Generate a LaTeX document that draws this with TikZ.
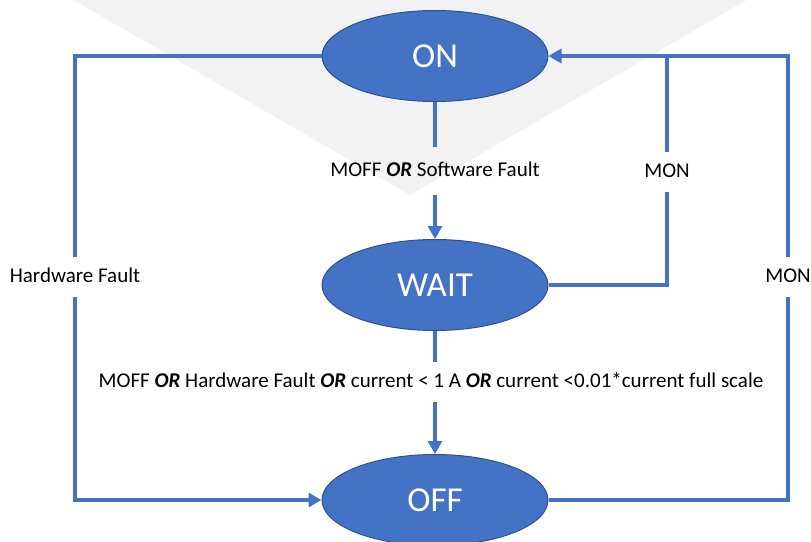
\documentclass[tikz,border=0pt]{standalone}
\usepackage{fontspec}
\setmainfont{Carlito}
\usetikzlibrary{shapes.geometric,arrows.meta}
\definecolor{obl}{HTML}{4472C4}
\definecolor{obd}{HTML}{2F528F}
\definecolor{tri}{HTML}{F2F2F2}
\begin{document}
\begin{tikzpicture}[x=1pt,y=-1pt,
 state/.style={ellipse, draw=obd, line width=1pt, fill=obl, minimum width=226pt, minimum height=91pt, inner sep=0pt, text=white, font=\fontsize{35}{40}\selectfont},
 lbl/.style={font=\fontsize{21}{24}\selectfont, inner sep=0pt, text height=14pt, text depth=4pt},
 conn/.style={obl, line width=4pt},
 arr/.style={conn, -{Triangle[length=13pt,width=14pt]}}]
\useasboundingbox (0,0) rectangle (811,541);
\fill[tri] (70,-2) -- (750,-2) -- (410,195) -- cycle;
\node[state] (on) at (435,56) {ON};
\node[state] (wait) at (435,285) {WAIT};
\node[state] (off) at (435,500) {OFF};
\node[lbl, minimum height=48pt] (l1) at (435,171) {MOFF \textbf{\textit{OR}} Software Fault};
\node[lbl, minimum height=39pt] (l2) at (667,172) {MON};
\node[lbl, minimum height=40pt] (l3) at (75,277) {Hardware Fault};
\node[lbl, minimum height=39pt] (l4) at (788,277) {MON};
\node[lbl, minimum height=40pt] (l5) at (431,382) {MOFF \textbf{\textit{OR}} Hardware Fault \textbf{\textit{OR}} current < 1 A \textbf{\textit{OR}} current <0.01*current full scale};
\draw[conn] (on.west) -- (on.west -| l3.north) -- (l3.north);
\draw[arr] (l3.south) -- (l3.south |- off.west) -- (off.west);
\draw[conn] (on.south) -- (l1.north);
\draw[arr] (l1.south) -- (wait.north);
\draw[conn] (wait.south) -- (wait.south |- l5.north);
\draw[arr] (wait.south |- l5.south) -- (off.north);
\coordinate (j) at (l2 |- on.east);
\draw[conn] (wait.east) -- (wait.east -| l2.south) -- (l2.south);
\draw[arr] (l2.north) -- (j) -- (on.east);
\draw[conn] (off.east) -- (off.east -| l4.south) -- (l4.south);
\draw[conn] (l4.north) -- (l4.north |- on.east) -- (j);
\end{tikzpicture}
\end{document}
